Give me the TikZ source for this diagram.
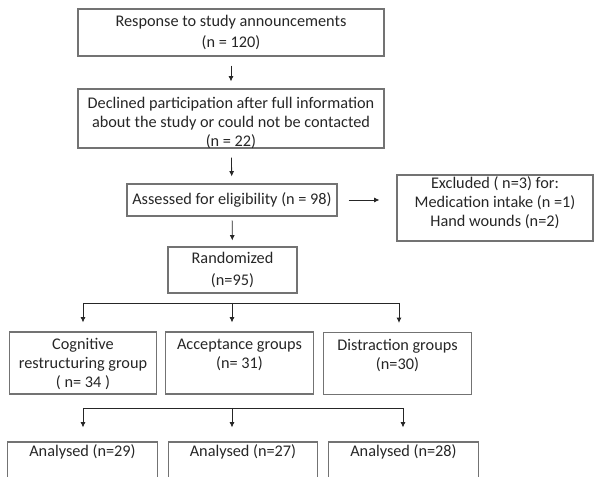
\documentclass[tikz,border=0pt]{standalone}
\usepackage{fontspec}
\setmainfont{Carlito}
\usetikzlibrary{arrows.meta}

\begin{document}
\begin{tikzpicture}[x=0.75pt, y=-0.75pt,
    box/.style = {rectangle,draw=black!55,line width=0.8pt,inner sep=0pt,align=center,text=black!85,font=\fontsize{12.2pt}{14.6pt}\selectfont},
    grp/.style = {box,minimum width=110.5pt,text height=27.75pt,text depth=18.75pt},
    ana/.style = {box,minimum width=112pt,text height=11.25pt,text depth=33.75pt},
    arr/.style = {-{Latex[length=4pt,width=3.75pt]},line width=0.6pt,black!85}]
\useasboundingbox (0,0) rectangle (594,477);
\clip (0,0) rectangle (594,477);
% screening
\node[box,minimum width=229.5pt,minimum height=35.25pt] (resp) at (231,32.5) {Response to study announcements\\[1pt](n = 120)};
\node[box,minimum width=229.5pt,text height=43.5pt,text depth=0.75pt] (decl) at (231,118.5) {Declined participation after full information\\about the study or could not be contacted\\(n = 22)};
\node[box,minimum width=157.5pt,minimum height=24pt] (assess) at (232,200) {Assessed for eligibility (n = 98)};
\node[box,minimum width=147pt,text height=39pt,text depth=10.5pt] (excl) at (495,208) {Excluded ( n=3) for:\\Medication intake (n =1)\\Hand wounds (n=2)};
\node[box,minimum width=96.75pt,minimum height=34.5pt] (rand) at (232.5,270) {Randomized\\[2pt](n=95)};
\draw[arr,shorten <=6.75pt,shorten >=5.25pt] (resp) -- (decl);
\draw[arr,shorten <=6.75pt,shorten >=5.25pt] (decl) -- (assess);
\draw[arr,shorten <=3pt,shorten >=4.5pt] (assess) -- (rand);
\draw[arr,shorten <=8.25pt,shorten >=12.75pt] (assess.east) -- (assess.east -| excl.west);
% allocation
\node[grp,text height=42pt,text depth=4.5pt] (grpA) at (83,363) {Cognitive\\restructuring group\\( n= 34 )};
\node[grp] (grpB) at (239.5,363) {Acceptance groups\\(n= 31)};
\node[grp] (grpC) at (397.5,363.5) {Distraction groups\\(n=30)};
\foreach \n/\x in {a/83,b/232,c/399} \coordinate (sa\n) at (\x,303);
\draw[line width=0.6pt,black!85] (saa) -- (sac);
\foreach \n/\g in {a/grpA,b/grpB,c/grpC} \draw[arr,shorten >=6.75pt] (sa\n) -- (sa\n |- \g.north);
% analysis
\node[ana] (anaA) at (82.5,472) {Analysed (n=29)};
\node[ana] (anaB) at (243,472) {Analysed (n=27)};
\node[ana] (anaC) at (403.5,472) {Analysed (n=28)};
\foreach \n/\x in {a/83,b/232,c/403} \coordinate (sb\n) at (\x,408);
\draw[line width=0.6pt,black!85] (sba) -- (sbc);
\foreach \n/\g in {a/anaA,b/anaB,c/anaC} \draw[arr,shorten >=10.5pt] (sb\n) -- (sb\n |- \g.north);
\end{tikzpicture}
\end{document}
